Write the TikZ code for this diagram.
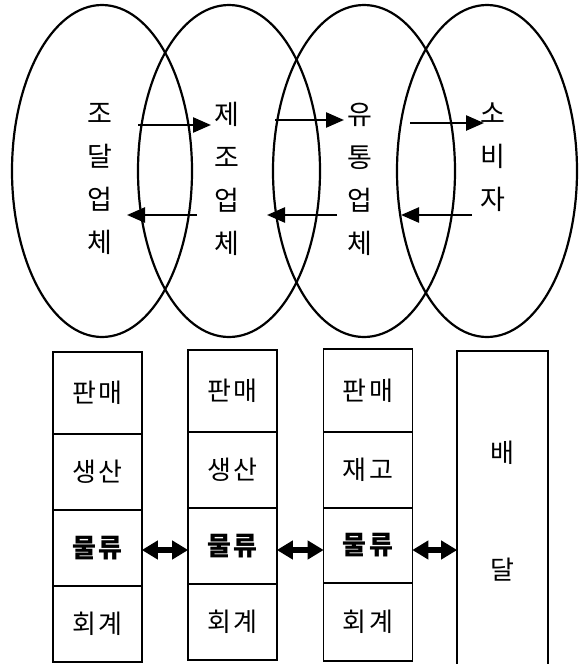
\documentclass[tikz,border=0pt]{standalone}
\usepackage{fontspec}
\setmainfont{Noto Sans CJK KR}
\usetikzlibrary{arrows.meta}
\begin{document}
\begin{tikzpicture}[x=1pt,y=-1pt,
  oval/.style={draw, line width=2.2pt},
  vtext/.style={align=center, inner sep=0pt, font=\fontsize{27}{43}\selectfont},
  flowarrow/.style={line width=2.5pt, -{Triangle[length=18pt,width=15pt]}},
  cell/.style={draw, line width=1.6pt, minimum width=89pt, inner sep=0pt, font=\fontsize{26}{30}\selectfont},
  linkarrow/.style={line width=5.5pt, {Triangle[length=16pt,width=18pt]}-{Triangle[length=16pt,width=18pt]}, shorten <=-1pt, shorten >=-1pt}
]
\useasboundingbox (0,0) rectangle (579,664);
% ellipses
\draw[oval] (102,171) ellipse [x radius=90, y radius=166];
\draw[oval] (229,171) ellipse [x radius=91, y radius=166];
\draw[oval] (364,171) ellipse [x radius=91, y radius=166];
\draw[oval] (487,171) ellipse [x radius=90, y radius=166];
% vertical labels
\node[vtext] (sup) at (100,179) {조\\달\\업\\체};
\node[vtext] (man) at (227,179) {제\\조\\업\\체};
\node[vtext] (dis) at (360,179) {유\\통\\업\\체};
\node[vtext] (con) at (493,157) {소\\비\\자};
% arrow end points
\coordinate (a1s) at (138,125); \coordinate (a1e) at (211,125);
\coordinate (a2s) at (275,120); \coordinate (a2e) at (344,120);
\coordinate (a3s) at (410,123); \coordinate (a3e) at (484,123);
\coordinate (b1s) at (197,215); \coordinate (b1e) at (127,215);
\coordinate (b2s) at (337,215); \coordinate (b2e) at (267,215);
\coordinate (b3s) at (472,215); \coordinate (b3e) at (401,215);
\draw[flowarrow] (a1s) -- (a1e);
\draw[flowarrow] (a2s) -- (a2e);
\draw[flowarrow] (a3s) -- (a3e);
\draw[flowarrow] (b1s) -- (b1e);
\draw[flowarrow] (b2s) -- (b2e);
\draw[flowarrow] (b3s) -- (b3e);
% column 1
\node[cell, minimum height=82pt] (c1r1) at (97.5,393) {판\hspace{3pt}매};
\node[cell, minimum height=76pt] (c1r2) at (97.5,472) {생\hspace{3pt}산};
\node[cell, minimum height=76pt] (c1r3) at (97.5,548) {\textbf{물\hspace{3pt}류}};
\node[cell, minimum height=76pt] (c1r4) at (97.5,624) {회\hspace{3pt}계};
% column 2
\node[cell, minimum height=82pt] (c2r1) at (232.5,391) {판\hspace{3pt}매};
\node[cell, minimum height=76pt] (c2r2) at (232.5,470) {생\hspace{3pt}산};
\node[cell, minimum height=76pt] (c2r3) at (232.5,546) {\textbf{물\hspace{3pt}류}};
\node[cell, minimum height=76pt] (c2r4) at (232.5,622) {회\hspace{3pt}계};
% column 3
\node[cell, minimum height=83pt] (c3r1) at (368,390.5) {판\hspace{3pt}매};
\node[cell, minimum height=76pt] (c3r2) at (368,470) {재\hspace{3pt}고};
\node[cell, minimum height=75pt] (c3r3) at (368,545.5) {\textbf{물\hspace{3pt}류}};
\node[cell, minimum height=78pt] (c3r4) at (368,622) {회\hspace{3pt}계};
% column 4
\node[cell, minimum width=91pt, minimum height=318pt] (c4) at (502.5,510) {};
\node[font=\fontsize{26}{30}\selectfont] (bae) at (502,453) {배};
\node[font=\fontsize{26}{30}\selectfont] (dal) at (502,570) {달};
% link arrows
\draw[linkarrow] (c1r3.east |- 0,550) -- (c2r3.west |- 0,550);
\draw[linkarrow] (c2r3.east |- 0,550) -- (c3r3.west |- 0,550);
\draw[linkarrow] (c3r3.east |- 0,550) -- (c4.west |- 0,550);
\end{tikzpicture}
\end{document}
